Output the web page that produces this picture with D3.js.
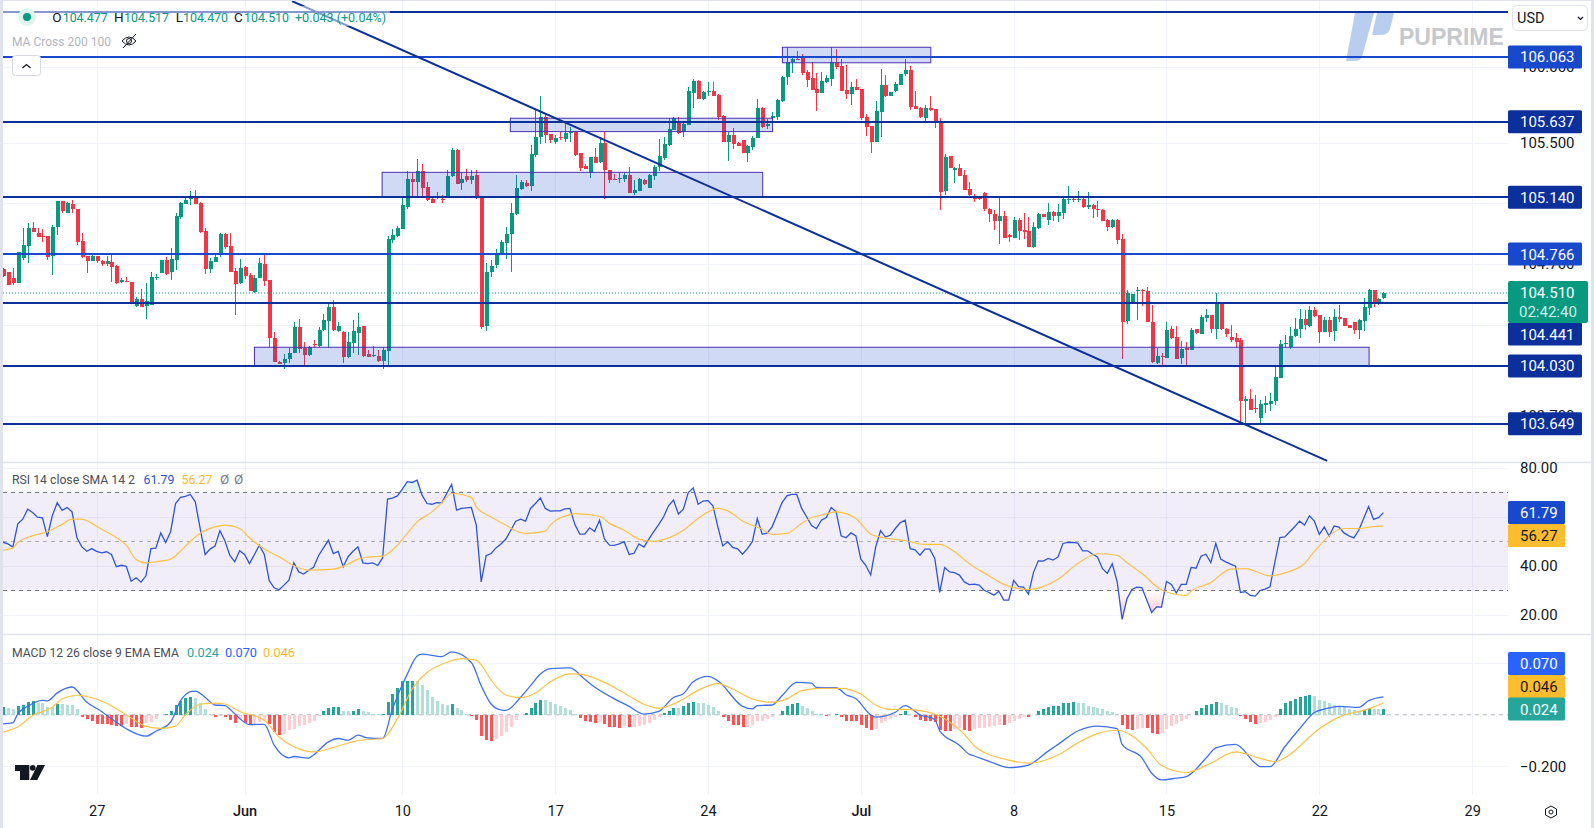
<!DOCTYPE html>
<html lang="en">
<head>
  <meta charset="UTF-8" />
  <title>US Dollar Index 4H</title>
  <script src="https://d3js.org/d3.v7.min.js"></script>
  <style>
    html, body { margin: 0; padding: 0; background: #fff; overflow: hidden; }
    svg { display: block; font-family: Roboto, 'Noto Sans', sans-serif; }
    .axis text { fill: #131722; }
    .axis .domain, .axis line { display: none; }
  </style>
</head>
<body>
<svg id="chart" width="1594" height="828"></svg>
<script>
// candles
const opens = [
  104.666,104.651,104.611,104.578,104.738,104.820,104.940,104.903,104.883,104.885,
  104.754,104.947,105.116,105.039,105.096,105.063,104.852,104.756,104.723,104.754,
  104.723,104.701,104.712,104.690,104.583,104.592,104.580,104.425,104.471,104.425,
  104.431,104.609,104.644,104.728,104.651,104.728,105.008,105.096,105.129,105.144,
  105.105,104.918,104.666,104.716,104.760,104.899,104.820,104.655,104.574,104.684,
  104.629,104.519,104.611,104.701,104.596,104.214,104.059,104.048,104.076,104.114,
  104.285,104.146,104.103,104.177,104.164,104.267,104.328,104.421,104.263,104.256,
  104.087,104.179,104.249,104.293,104.107,104.094,104.096,104.063,104.131,104.859,
  104.886,104.934,105.079,105.261,105.241,105.313,105.208,105.129,105.142,105.131,
  105.151,105.280,105.452,105.237,105.280,105.254,105.287,105.145,104.296,104.649,
  104.695,104.776,104.842,104.895,105.030,105.195,105.232,105.217,105.419,105.537,
  105.666,105.554,105.506,105.537,105.522,105.565,105.572,105.430,105.348,105.298,
  105.405,105.373,105.498,105.320,105.263,105.261,105.261,105.287,105.167,105.184,
  105.254,105.204,105.283,105.342,105.397,105.485,105.583,105.636,105.572,105.616,
  105.829,105.905,105.787,105.833,105.840,105.813,105.675,105.506,105.550,105.500,
  105.517,105.434,105.473,105.533,105.730,105.612,105.660,105.666,105.774,105.932,
  106.028,106.052,106.066,105.967,105.925,105.853,105.829,105.897,105.919,106.028,
  106.004,105.846,105.820,105.866,105.853,105.666,105.609,105.506,105.704,105.879,
  105.807,105.840,105.879,105.952,105.978,105.741,105.730,105.662,105.726,105.721,
  105.645,105.182,105.412,105.322,105.333,105.287,105.195,105.145,105.136,105.169,
  105.063,105.030,104.984,105.017,104.890,104.873,104.991,104.923,104.919,104.813,
  104.938,105.030,104.991,105.043,105.017,105.037,105.123,105.131,105.123,105.129,
  105.079,105.090,105.063,105.057,104.991,104.945,104.991,104.866,104.328,104.451,
  104.521,104.530,104.524,104.322,104.048,104.098,104.085,104.271,104.221,104.085,
  104.146,104.138,104.271,104.241,104.346,104.366,104.274,104.445,104.274,104.219,
  104.214,104.201,103.802,103.813,103.752,103.688,103.776,103.780,103.802,103.954,
  104.175,104.157,104.228,104.276,104.340,104.293,104.399,104.366,104.256,104.333,
  104.260,104.355,104.346,104.300,104.317,104.267,104.326,104.414,104.528,104.447,
  104.477];
const highs = [
  104.673,104.651,104.673,104.782,104.936,104.969,104.980,104.940,104.929,104.885,
  104.958,105.116,105.116,105.109,105.122,105.063,104.903,104.756,104.760,104.756,
  104.725,104.754,104.760,104.695,104.611,104.613,104.582,104.486,104.535,104.576,
  104.646,104.635,104.728,104.745,104.804,105.035,105.111,105.149,105.181,105.188,
  105.109,104.936,104.738,104.760,104.905,104.903,104.905,104.677,104.732,104.688,
  104.640,104.629,104.738,104.767,104.598,104.254,104.061,104.109,104.146,104.320,
  104.337,104.190,104.160,104.201,104.289,104.372,104.453,104.464,104.322,104.258,
  104.256,104.333,104.381,104.296,104.135,104.164,104.135,104.157,104.886,104.930,
  104.952,105.145,105.313,105.302,105.392,105.359,105.239,105.133,105.173,105.155,
  105.320,105.465,105.458,105.298,105.327,105.320,105.320,105.147,104.706,104.728,
  104.800,104.859,104.947,105.105,105.287,105.254,105.254,105.482,105.715,105.807,
  105.688,105.556,105.550,105.572,105.627,105.605,105.574,105.432,105.357,105.406,
  105.462,105.539,105.572,105.322,105.294,105.298,105.309,105.342,105.254,105.265,
  105.259,105.291,105.353,105.524,105.535,105.660,105.666,105.666,105.627,105.868,
  105.919,105.912,105.840,105.899,105.899,105.820,105.682,105.572,105.594,105.504,
  105.517,105.484,105.544,105.787,105.734,105.653,105.704,105.787,105.938,106.127,
  106.055,106.103,106.083,105.978,106.033,105.956,105.963,105.945,106.127,106.116,
  106.050,106.011,105.899,105.919,105.853,105.688,105.609,105.774,105.984,105.945,
  105.833,105.899,105.949,106.050,106.004,105.840,105.734,105.745,105.807,105.721,
  105.660,105.425,105.412,105.337,105.359,105.320,105.241,105.162,105.145,105.175,
  105.070,105.054,105.149,105.050,104.899,105.011,105.006,105.037,105.011,104.978,
  105.039,105.030,105.103,105.050,105.096,105.142,105.215,105.142,105.182,105.136,
  105.175,105.098,105.116,105.063,104.998,104.998,104.998,104.899,104.530,104.504,
  104.552,104.535,104.552,104.431,104.149,104.114,104.320,104.293,104.293,104.197,
  104.190,104.278,104.274,104.366,104.403,104.366,104.513,104.453,104.278,104.300,
  104.249,104.214,103.833,103.879,103.840,103.806,103.835,103.855,104.026,104.201,
  104.234,104.285,104.348,104.403,104.399,104.425,104.421,104.366,104.355,104.355,
  104.403,104.431,104.346,104.300,104.322,104.339,104.475,104.537,104.530,104.475,
  104.517];
const lows = [
  104.618,104.563,104.563,104.574,104.728,104.706,104.914,104.877,104.848,104.728,
  104.629,104.892,105.035,105.035,105.035,104.826,104.743,104.640,104.721,104.710,
  104.690,104.688,104.585,104.570,104.578,104.580,104.451,104.421,104.421,104.342,
  104.431,104.596,104.644,104.631,104.596,104.662,104.997,105.096,105.089,105.096,
  104.903,104.635,104.640,104.712,104.745,104.798,104.646,104.366,104.567,104.603,
  104.524,104.513,104.607,104.556,104.157,104.056,104.042,104.008,104.048,104.114,
  104.114,104.037,104.098,104.146,104.157,104.263,104.146,104.263,104.256,104.052,
  104.081,104.114,104.103,104.092,104.087,104.087,104.059,104.008,104.037,104.837,
  104.881,104.930,105.063,105.151,105.151,105.151,105.118,105.103,105.129,105.105,
  105.151,105.272,105.228,105.188,105.243,105.226,105.129,104.274,104.261,104.618,
  104.675,104.761,104.734,104.651,105.024,105.188,105.206,105.182,105.408,105.493,
  105.495,105.495,105.491,105.517,105.502,105.506,105.412,105.313,105.324,105.270,
  105.364,105.368,105.129,105.237,105.252,105.237,105.239,105.167,105.156,105.182,
  105.221,105.204,105.254,105.316,105.386,105.478,105.583,105.557,105.539,105.616,
  105.730,105.787,105.780,105.809,105.807,105.649,105.506,105.381,105.458,105.478,
  105.434,105.373,105.452,105.533,105.598,105.590,105.649,105.649,105.769,105.879,
  105.956,106.043,105.945,105.868,105.846,105.708,105.824,105.890,105.873,105.984,
  105.840,105.787,105.748,105.844,105.649,105.544,105.432,105.506,105.539,105.798,
  105.807,105.833,105.879,105.941,105.717,105.721,105.660,105.645,105.708,105.596,
  105.057,105.156,105.333,105.234,105.280,105.188,105.140,105.109,105.123,105.050,
  104.976,104.925,104.833,104.873,104.846,104.873,104.859,104.866,104.813,104.807,
  104.932,105.011,104.958,104.984,104.978,104.998,105.098,105.109,105.109,105.070,
  105.063,105.004,105.011,104.982,104.919,104.939,104.833,104.077,104.306,104.451,
  104.333,104.427,104.322,104.048,104.043,104.026,104.085,104.206,104.079,104.043,
  104.037,104.135,104.241,104.238,104.322,104.245,104.206,104.267,104.219,104.190,
  104.146,103.664,103.657,103.741,103.719,103.657,103.719,103.736,103.774,103.954,
  104.146,104.140,104.223,104.212,104.267,104.285,104.355,104.184,104.252,104.223,
  104.197,104.322,104.293,104.282,104.241,104.210,104.260,104.366,104.421,104.431,
  104.470];
const closes = [
  104.622,104.563,104.574,104.782,104.826,104.936,104.914,104.881,104.877,104.745,
  104.947,105.116,105.052,105.100,105.063,104.848,104.749,104.721,104.756,104.721,
  104.701,104.721,104.684,104.578,104.596,104.583,104.451,104.471,104.421,104.458,
  104.613,104.618,104.728,104.635,104.734,105.017,105.105,105.122,105.149,105.096,
  104.910,104.668,104.721,104.745,104.899,104.815,104.651,104.570,104.673,104.625,
  104.526,104.609,104.706,104.592,104.212,104.059,104.046,104.076,104.114,104.285,
  104.140,104.103,104.157,104.170,104.267,104.333,104.421,104.267,104.293,104.087,
  104.186,104.260,104.287,104.098,104.092,104.101,104.063,104.135,104.866,104.892,
  104.936,105.090,105.261,105.241,105.313,105.204,105.123,105.105,105.134,105.123,
  105.280,105.452,105.228,105.261,105.252,105.280,105.134,104.285,104.649,104.688,
  104.772,104.846,104.899,105.037,105.202,105.241,105.213,105.425,105.537,105.666,
  105.552,105.517,105.533,105.528,105.565,105.574,105.419,105.335,105.329,105.405,
  105.368,105.498,105.322,105.256,105.254,105.270,105.287,105.167,105.188,105.261,
  105.224,105.287,105.342,105.412,105.491,105.590,105.660,105.561,105.623,105.840,
  105.905,105.787,105.833,105.840,105.809,105.666,105.506,105.550,105.491,105.480,
  105.434,105.480,105.533,105.728,105.605,105.620,105.675,105.780,105.932,106.028,
  106.050,106.043,105.956,105.912,105.846,105.829,105.905,105.923,106.028,106.000,
  105.840,105.820,105.864,105.846,105.660,105.603,105.504,105.708,105.879,105.807,
  105.833,105.886,105.949,105.978,105.734,105.721,105.666,105.728,105.717,105.645,
  105.175,105.405,105.333,105.331,105.280,105.188,105.153,105.129,105.127,105.061,
  105.030,104.984,105.017,104.873,104.881,104.991,104.919,104.914,104.813,104.945,
  105.033,105.011,105.043,105.017,105.043,105.129,105.131,105.123,105.131,105.076,
  105.087,105.063,105.054,104.984,104.945,104.991,104.859,104.320,104.513,104.504,
  104.530,104.521,104.322,104.054,104.096,104.090,104.267,104.212,104.079,104.142,
  104.138,104.267,104.249,104.355,104.366,104.274,104.445,104.271,104.241,104.201,
  104.188,103.802,103.813,103.741,103.748,103.780,103.785,103.800,103.958,104.173,
  104.184,104.228,104.274,104.340,104.300,104.399,104.361,104.256,104.333,104.256,
  104.350,104.337,104.293,104.282,104.267,104.333,104.418,104.530,104.451,104.471,
  104.510];

// time axis: bar number of each label
const timeBars = [19, 49, 81, 112, 143, 174, 205, 236, 267, 298];
const timeLabels = ['27', 'Jun', '10', '17', '24', 'Jul', '8', '15', '22', '29'];

// price pane
const priceTicks = [106.0, 105.5, 105.1, 104.7, 104.3, 103.7];
const priceLabels = [106.0, 105.5, 104.7, 103.7];
const topLevel = 106.36;
const levels = [106.063, 105.637, 105.140, 104.766, 104.441, 104.030, 103.649];
const brightLevels = [106.063, 104.766];
const lastPrice = 104.510;
const countdown = '02:42:40';
// [first bar, last bar] and [top price, bottom price] of each zone
const zoneBars = [[158.1, 188.2], [102.9, 156.1], [76.9, 154.1], [51, 277.1]];
const zonePrices = [[106.127, 106.025], [105.660, 105.572], [105.304, 105.140], [104.153, 104.030]];
const trendBars = [58.6, 268.6];
const trendPrices = [106.431, 103.405];

// RSI pane
const rsiTicks = [80, 60, 40, 20];
const rsiLabels = [80, 40, 20];
const rsiValues = [
  49.7,49.0,47.7,57.2,59.1,63.2,61.8,59.9,59.7,52.0,60.5,65.8,62.7,63.9,62.1,51.5,47.8,46.0,47.1,46.0,
  45.4,45.8,44.7,39.7,40.3,39.9,33.8,35.2,33.4,36.0,47.1,47.3,53.5,49.6,54.0,65.5,68.0,68.4,69.2,66.2,
  55.3,44.7,46.9,48.1,54.4,50.3,44.4,41.7,46.2,44.7,41.0,44.7,48.5,44.7,34.0,31.1,30.3,32.2,34.2,41.3,
  37.6,36.7,38.3,39.5,44.2,47.4,50.5,45.1,46.0,39.7,43.8,46.0,47.8,41.3,41.0,41.3,40.2,43.3,67.3,67.7,
  68.6,71.4,74.4,74.1,75.0,68.9,65.5,65.2,65.9,65.8,69.6,73.3,62.8,63.5,63.7,63.9,56.7,33.5,44.2,45.1,
  47.4,49.0,51.0,54.6,58.3,59.1,58.3,63.5,65.5,67.8,63.5,62.4,62.5,62.5,63.3,63.5,56.9,53.0,53.0,55.6,
  54.1,58.7,51.0,48.5,48.4,49.0,49.9,44.7,45.2,49.0,47.7,51.0,54.0,56.9,60.1,64.6,66.9,61.2,63.2,70.0,
  71.9,65.2,66.5,66.7,64.6,56.0,48.2,49.9,47.6,47.0,44.8,47.1,49.9,59.4,53.0,53.4,56.0,60.8,65.8,68.6,
  69.2,69.2,63.5,60.1,56.5,55.3,58.7,59.8,63.9,62.1,52.3,51.5,53.5,52.3,42.8,40.3,36.3,47.6,54.4,51.8,
  52.6,55.3,57.7,58.7,47.1,46.6,44.4,46.9,46.9,43.1,29.2,39.4,37.6,37.3,36.3,33.5,32.4,32.6,32.2,30.1,
  29.2,28.1,29.7,26.1,26.1,34.1,31.6,31.4,28.5,37.2,42.1,42.0,43.1,42.4,43.7,49.2,49.6,49.6,49.3,46.2,
  46.2,44.8,43.7,39.0,37.0,40.9,33.5,18.2,26.7,30.4,31.4,31.2,26.1,21.0,23.3,23.2,33.7,32.5,29.0,32.5,
  32.5,39.4,39.1,44.0,44.8,41.4,49.2,42.8,41.7,40.8,39.9,29.2,29.5,28.0,27.7,30.0,30.6,31.5,41.7,51.6,
  51.9,54.0,56.0,58.3,56.7,60.5,58.3,52.9,55.9,52.2,56.3,55.9,53.5,52.3,51.5,54.6,59.4,64.3,59.0,59.7,
  61.79];
const smaBars = [0,2,3,6,9,12,14,16,18,20,23,25,27,29,31,34,36,38,40,43,45,48,50,53,56,59,62,67,70,72,74,77,80,82,84,87,89,91,95,96,99,
  102,104,106,110,111,115,116,121,123,126,129,132,135,138,141,145,147,150,154,156,159,162,164,166,169,173,176,178,183,187,190,193,196,
  200,203,208,214,218,222,226,228,231,235,240,241,245,249,252,257,260,264,266,272,275,278,280];
const smaValues = [46.5,47.4,49.6,52.3,54.0,57.0,59.1,59.1,57.4,55.0,51.6,48.5,42.7,41.3,41.7,42.8,46.0,50.1,53.4,56.0,56.7,55.3,51.5,46.9,43.8,40.1,38.3,38.7,40.8,42.8,43.6,44.0,48.5,53.3,58.0,62.1,65.8,69.6,68.0,64.1,60.0,
  56.7,54.4,53.3,54.2,56.7,61.0,61.4,60.3,57.4,54.6,51.0,50.1,51.5,54.6,59.4,63.5,62.5,58.4,55.0,52.9,53.3,57.4,59.7,60.7,62.1,59.4,53.0,51.8,50.4,48.8,48.8,45.8,40.9,
  36.0,32.5,30.4,34.6,41.0,45.0,44.4,41.3,37.0,30.2,28.0,29.7,33.3,38.7,38.9,36.0,37.2,41.0,46.0,55.3,55.3,56.1,56.27];

// MACD pane
const macdTicks = [0.2, -0.2];
const macdBars = [0,2,3,5,8,9,11,13,14,17,20,22,25,29,31,34,36,38,39,41,43,45,47,50,53,55,58,59,62,63,66,68,70,72,74,77,79,82,84,85,89,91,95,97,
  99,101,102,105,107,109,111,115,118,120,124,127,130,133,136,138,140,143,145,150,152,153,156,158,161,164,165,169,171,173,176,177,181,183,186,189,190,194,196,
  197,201,204,208,212,214,218,222,226,227,231,233,235,238,240,244,246,250,254,255,257,260,263,266,268,271,275,277,280];
const macdValues = [-0.035,-0.031,0.004,0.033,0.056,0.054,0.085,0.105,0.108,0.049,0.013,-0.015,-0.054,-0.083,-0.064,-0.028,0.054,0.090,0.092,0.068,0.038,0.036,0.004,-0.038,-0.037,-0.118,-0.167,-0.162,-0.168,-0.156,-0.105,-0.092,-0.099,-0.079,-0.090,-0.092,0.023,0.158,0.228,0.236,0.226,0.244,0.203,0.113,
  0.042,0.019,0.017,0.068,0.113,0.158,0.179,0.182,0.138,0.108,0.062,0.033,0.003,0.013,0.067,0.082,0.128,0.149,0.132,0.033,0.023,0.036,0.038,0.074,0.126,0.123,0.106,0.105,0.078,0.062,0,-0.009,0.010,0.036,0,-0.018,-0.062,-0.118,-0.153,
  -0.160,-0.188,-0.205,-0.195,-0.141,-0.115,-0.063,-0.044,-0.054,-0.115,-0.167,-0.227,-0.253,-0.246,-0.240,-0.169,-0.128,-0.115,-0.188,-0.201,-0.201,-0.124,-0.054,0.009,0.022,0.033,0.029,0.055,0.070];
const signalBars = [0,3,6,10,12,15,17,21,25,29,32,35,37,40,43,45,48,53,56,59,63,68,72,77,80,83,86,90,93,96,97,99,
  102,105,108,111,115,117,122,126,130,133,137,141,145,148,152,156,159,162,166,170,174,177,180,183,189,192,196,
  197,204,208,214,218,222,226,232,235,240,245,250,255,258,260,267,271,277,280];
const signalValues = [-0.067,-0.047,-0.003,0.029,0.062,0.076,0.071,0.045,0,-0.045,-0.053,-0.044,0,0.041,0.045,0.042,0.013,-0.021,-0.086,-0.124,-0.144,-0.121,-0.100,-0.092,-0.015,0.100,0.164,0.203,0.218,0.212,0.194,0.135,
  0.077,0.067,0.085,0.128,0.159,0.158,0.126,0.085,0.041,0.026,0.051,0.095,0.121,0.100,0.062,0.049,0.062,0.094,0.103,0.103,0.081,0.038,0.021,0.021,0.003,-0.028,-0.097,
  -0.121,-0.176,-0.188,-0.156,-0.109,-0.073,-0.060,-0.131,-0.197,-0.224,-0.188,-0.144,-0.169,-0.182,-0.167,-0.054,-0.009,0.023,0.046];
const histValues = [
  .029,.027,.023,.033,.040,.051,.052,.046,.044,.032,.031,.042,.041,.040,.039,.021,-.008,-.018,-.026,-.035,
  -.036,-.037,-.038,-.044,-.045,-.035,-.047,-.049,-.050,-.031,-.028,-.018,.001,.003,.015,.040,.054,.067,.069,.067,
  .046,.021,.003,-.009,-.004,-.009,-.022,-.033,-.022,-.031,-.041,-.035,-.029,-.023,-.036,-.067,-.077,-.073,-.060,-.054,
  -.045,-.041,-.031,-.023,-.005,.013,.028,.029,.030,.015,.014,.015,.023,.013,.009,.005,.003,.005,.051,.082,
  .103,.131,.132,.133,.132,.117,.095,.071,.054,.041,.038,.041,.026,.017,.004,-.005,-.022,-.082,-.099,-.103,
  -.095,-.083,-.067,-.049,-.022,-.001,.008,.028,.044,.059,.058,.051,.042,.036,.028,.019,.005,-.013,-.026,-.029,
  -.032,-.028,-.037,-.046,-.049,-.050,-.045,-.049,-.048,-.045,-.041,-.033,-.022,-.009,.006,.015,.028,.027,.033,.044,
  .051,.046,.044,.040,.031,.013,-.009,-.026,-.038,-.041,-.049,-.048,-.041,-.026,-.023,-.018,-.009,.001,.015,.033,
  .041,.044,.035,.028,.013,.003,.001,-.005,.001,.002,-.009,-.023,-.024,-.026,-.038,-.050,-.060,-.054,-.032,-.026,
  -.018,-.009,.005,.013,.001,-.009,-.022,-.023,-.024,-.028,-.060,-.061,-.062,-.054,-.053,-.060,-.061,-.055,-.053,-.050,
  -.046,-.044,-.038,-.039,-.032,-.023,-.017,-.009,-.010,-.002,.013,.024,.032,.033,.036,.044,.047,.048,.047,.044,
  .036,.032,.027,.021,.014,.009,.001,-.041,-.056,-.060,-.056,-.050,-.053,-.072,-.073,-.072,-.054,-.045,-.037,-.026,
  -.018,.001,.013,.028,.040,.041,.051,.047,.040,.032,.028,-.003,-.018,-.029,-.037,-.033,-.029,-.022,-.008,.024,
  .044,.055,.063,.071,.074,.075,.074,.059,.055,.044,.040,.036,.032,.021,.017,.013,.017,.027,.024,.023,
  .024];

const svg = d3.select('#chart');
const green = '#089981', red = '#f23645';
const navy = '#0b2f9b', bright = '#1848cc';
const gridColor = '#f0f3fa';
const axisX = 1508;

// scales
const x = d3.scaleLinear().domain([0, closes.length - 1]).range([3, 1383.4]);
const yPrice = d3.scaleLinear().domain([106.438, 103.398]).range([0, 462]);
const yRsi = d3.scaleLinear().domain([80, 20]).range([468, 615]);
const yMacd = d3.scaleLinear().domain([0.2, -0.2]).range([663.3, 766.3]);

// clip areas of the panes
const defs = svg.append('defs');
function addClip(id, y0, y1) {
  defs.append('clipPath').attr('id', id).append('rect')
    .attr('x', 3).attr('y', y0).attr('width', axisX - 3).attr('height', y1 - y0);
}
addClip('clip-price', 1, 462);
addClip('clip-rsi', 463, 634);
addClip('clip-macd', 635, 795);
addClip('clip-over', yRsi(70) - 40, yRsi(70));
addClip('clip-under', yRsi(30), yRsi(20) + 15);

const under = defs.append('linearGradient').attr('id', 'under-fill')
  .attr('gradientUnits', 'userSpaceOnUse').attr('x1', 0).attr('x2', 0)
  .attr('y1', yRsi(30)).attr('y2', yRsi(20));
under.append('stop').attr('offset', 0).attr('stop-color', red).attr('stop-opacity', 0);
under.append('stop').attr('offset', 1).attr('stop-color', red).attr('stop-opacity', 0.28);

// page frame
svg.append('rect').attr('width', 1594).attr('height', 828).attr('fill', '#fff');

// vertical grid
svg.append('g').selectAll('line').data(timeBars).join('line')
  .attr('x1', d => Math.round(x(d)) + 0.5).attr('x2', d => Math.round(x(d)) + 0.5)
  .attr('y1', 0).attr('y2', 795)
  .attr('stroke', gridColor);

// horizontal grid of all three panes
function hGrid(ticks, scale) {
  svg.append('g').selectAll('line').data(ticks).join('line')
    .attr('x1', 3).attr('x2', axisX)
    .attr('y1', d => Math.round(scale(d)) + 0.5).attr('y2', d => Math.round(scale(d)) + 0.5)
    .attr('stroke', gridColor);
}
hGrid(priceTicks, yPrice);
hGrid(rsiTicks, yRsi);
hGrid(macdTicks, yMacd);

// watermark
const mark = svg.append('g');
mark.append('path').attr('d', 'M1355,13 L1374,13 L1362,57 Q1360,61 1355,61 L1346,61 Z').attr('fill', '#b9cdef');
mark.append('path').attr('d', 'M1377,13 L1394,13 L1390,29 Q1388,35 1380,35 L1372,35 Z').attr('fill', '#b9cdef');
mark.append('text').attr('x', 1399).attr('y', 45).attr('font-size', 23).attr('font-weight', 700)
  .attr('font-family', "'Liberation Sans', sans-serif").attr('fill', '#c6c8cc').text('PUPRIME');

// candles
const candleLayer = svg.append('g').attr('clip-path', 'url(#clip-price)').attr('shape-rendering', 'crispEdges');
const bars = candleLayer.selectAll('g').data(closes.map((c, i) => i)).join('g')
  .attr('fill', i => closes[i] >= opens[i] ? green : red);
bars.append('rect')
  .attr('x', i => Math.round(x(i)))
  .attr('width', 1)
  .attr('y', i => yPrice(highs[i]))
  .attr('height', i => yPrice(lows[i]) - yPrice(highs[i]));
bars.append('rect')
  .attr('x', i => Math.round(x(i)) - 1.5)
  .attr('width', 4)
  .attr('y', i => yPrice(Math.max(opens[i], closes[i])))
  .attr('height', i => Math.max(1, Math.abs(yPrice(opens[i]) - yPrice(closes[i]))));

// zones
svg.append('g').attr('clip-path', 'url(#clip-price)').selectAll('rect').data(zoneBars).join('rect')
  .attr('x', d => x(d[0])).attr('width', d => x(d[1]) - x(d[0]))
  .attr('y', (d, i) => yPrice(zonePrices[i][0]))
  .attr('height', (d, i) => yPrice(zonePrices[i][1]) - yPrice(zonePrices[i][0]))
  .attr('fill', bright).attr('fill-opacity', 0.2)
  .attr('stroke', '#4a2fae').attr('stroke-width', 1);

// last price line
svg.append('line').attr('x1', 3).attr('x2', axisX)
  .attr('y1', yPrice(lastPrice)).attr('y2', yPrice(lastPrice))
  .attr('stroke', green).attr('stroke-dasharray', '1 2');

// horizontal levels
svg.append('g').attr('shape-rendering', 'crispEdges').selectAll('line').data([topLevel].concat(levels)).join('line')
  .attr('x1', 3).attr('x2', axisX)
  .attr('y1', d => yPrice(d)).attr('y2', d => yPrice(d))
  .attr('stroke', d => brightLevels.includes(d) ? bright : navy)
  .attr('stroke-width', 2);

// trend line
svg.append('line').attr('clip-path', 'url(#clip-price)')
  .attr('x1', x(trendBars[0])).attr('x2', x(trendBars[1]))
  .attr('y1', yPrice(trendPrices[0])).attr('y2', yPrice(trendPrices[1]))
  .attr('stroke', navy).attr('stroke-width', 2);

// legend backdrop dims what runs behind the top row
svg.append('rect').attr('x', 3).attr('y', 6).attr('width', 387).attr('height', 20)
  .attr('fill', '#fff').attr('opacity', 0.5);

// RSI band
svg.append('rect').attr('x', 3).attr('width', axisX - 3)
  .attr('y', yRsi(70)).attr('height', yRsi(30) - yRsi(70))
  .attr('fill', '#7e57c2').attr('fill-opacity', 0.1);
[[70, '#787b86'], [50, 'rgba(120,123,134,0.55)'], [30, '#787b86']].forEach(([v, col]) => {
  svg.append('line').attr('x1', 3).attr('x2', axisX)
    .attr('y1', yRsi(v)).attr('y2', yRsi(v))
    .attr('stroke', col).attr('stroke-dasharray', '4 4');
});

// RSI fills past the band, RSI line and its average
const rsiIndex = rsiValues.map((v, i) => i);
const rsiArea = d3.area().x(i => x(i)).y1(i => yRsi(rsiValues[i]));
svg.append('path').attr('clip-path', 'url(#clip-under)')
  .attr('d', rsiArea.y0(yRsi(30))(rsiIndex)).attr('fill', 'url(#under-fill)');
svg.append('path').attr('clip-path', 'url(#clip-over)')
  .attr('d', rsiArea.y0(yRsi(70))(rsiIndex)).attr('fill', green).attr('fill-opacity', 0.12);

const rsiLine = d3.line().x(i => x(i)).y(i => yRsi(rsiValues[i]));
svg.append('path').attr('clip-path', 'url(#clip-rsi)').attr('d', rsiLine(rsiIndex))
  .attr('fill', 'none').attr('stroke', '#2f55cf').attr('stroke-width', 1.3);

const smooth = (bars, values, scale) => d3.line().curve(d3.curveMonotoneX)
  .x(d => x(d)).y((d, i) => scale(values[i]))(bars);
svg.append('path').attr('clip-path', 'url(#clip-rsi)').attr('d', smooth(smaBars, smaValues, yRsi))
  .attr('fill', 'none').attr('stroke', '#fdc146').attr('stroke-width', 1.2);

// MACD zero line
svg.append('line').attr('x1', 3).attr('x2', axisX)
  .attr('y1', yMacd(0)).attr('y2', yMacd(0))
  .attr('stroke', '#b2b5be').attr('stroke-dasharray', '4 4');

// histogram, the shade follows rising or falling
svg.append('g').attr('clip-path', 'url(#clip-macd)').attr('shape-rendering', 'crispEdges')
  .selectAll('rect').data(histValues).join('rect')
  .attr('x', (d, i) => Math.round(x(i)) - 1)
  .attr('width', 3)
  .attr('y', d => Math.min(yMacd(d), yMacd(0)))
  .attr('height', d => Math.abs(yMacd(d) - yMacd(0)))
  .attr('fill', (d, i) => {
    const rising = i === 0 || d > histValues[i - 1];
    if (d >= 0) return rising ? '#26a69a' : '#b2dfdb';
    return rising ? '#ffcdd2' : '#ff5252';
  });

svg.append('path').attr('clip-path', 'url(#clip-macd)').attr('d', smooth(macdBars, macdValues, yMacd))
  .attr('fill', 'none').attr('stroke', '#4070f0').attr('stroke-width', 1.3);
svg.append('path').attr('clip-path', 'url(#clip-macd)').attr('d', smooth(signalBars, signalValues, yMacd))
  .attr('fill', 'none').attr('stroke', '#fdc146').attr('stroke-width', 1.2);

// pane separators and frame
[[0, 462.5], [0, 634.5]].forEach(([x0, y]) => {
  svg.append('line').attr('x1', x0).attr('x2', 1594).attr('y1', y).attr('y2', y).attr('stroke', '#e0e3eb').attr('stroke-width', 1.5);
});
svg.append('rect').attr('x', 0).attr('y', 0).attr('width', 3).attr('height', 828).attr('fill', '#e0e3eb');
svg.append('rect').attr('x', 0).attr('y', 0).attr('width', 1594).attr('height', 1).attr('fill', '#e0e3eb');
svg.append('rect').attr('x', 1591).attr('y', 0).attr('width', 3).attr('height', 828).attr('fill', '#e0e3eb');

// axes
function rightAxis(scale, ticks, fmt) {
  const g = svg.append('g').attr('class', 'axis').attr('transform', `translate(${axisX},0)`)
    .call(d3.axisRight(scale).tickValues(ticks).tickSize(0).tickPadding(12).tickFormat(fmt));
  g.selectAll('text').attr('font-size', 15).attr('font-family', 'Roboto, sans-serif');
}
rightAxis(yPrice, priceLabels, d3.format('.3f'));
rightAxis(yRsi, rsiLabels, d3.format('.2f'));
rightAxis(yMacd, [-0.2], d => d3.format('.3f')(d).replace('-', '\u2212'));

const timeAxis = svg.append('g').attr('class', 'axis').attr('transform', 'translate(0,800)')
  .call(d3.axisBottom(x).tickValues(timeBars).tickSize(0).tickPadding(6)
    .tickFormat((d, i) => timeLabels[i]));
timeAxis.selectAll('text').attr('font-size', 14.5).attr('font-family', 'Roboto, sans-serif')
  .attr('font-weight', (d, i) => /[A-Z]/.test(timeLabels[i]) ? 500 : 400);

// value pills on the right scale
function pill(y, width, height, color, label, textColor) {
  svg.append('rect').attr('x', axisX).attr('y', y).attr('width', width).attr('height', height)
    .attr('fill', color).attr('rx', 1.5);
  svg.append('text').attr('x', axisX + 12).attr('y', y + height / 2 + 5.5)
    .attr('font-size', 15).attr('fill', textColor || '#fff').text(label);
}
levels.forEach(v => {
  // the 104.441 tag is pushed down by the last price tag
  const centre = v === 104.441 ? 334 : yPrice(v);
  pill(centre - 11.5, 74, 23, brightLevels.includes(v) ? bright : navy, v.toFixed(3));
});
svg.append('rect').attr('x', axisX).attr('y', 281).attr('width', 80).attr('height', 42).attr('fill', green).attr('rx', 2);
svg.append('text').attr('x', axisX + 12).attr('y', 298).attr('font-size', 15).attr('fill', '#fff').text(lastPrice.toFixed(3));
svg.append('text').attr('x', axisX + 11).attr('y', 317).attr('font-size', 15).attr('fill', '#cfeee8').text(countdown);

pill(501, 57, 23, bright, rsiValues[rsiValues.length - 1].toFixed(2));
pill(524, 57, 23, '#fdbd2e', smaValues[smaValues.length - 1].toFixed(2), '#131722');
pill(652, 57, 23, '#2962ff', macdValues[macdValues.length - 1].toFixed(3));
pill(675, 57, 23, '#fdbd2e', signalValues[signalValues.length - 1].toFixed(3), '#131722');
pill(697.5, 57, 23, '#26a69a', histValues[histValues.length - 1].toFixed(3));

// legends, fitted to the width they take in the picture
function legendText(px, py, str, color, width) {
  const t = svg.append('text').attr('x', px).attr('y', py).attr('font-size', 13.5)
    .attr('fill', color).text(str);
  if (width) t.attr('textLength', width).attr('lengthAdjust', 'spacingAndGlyphs');
  return t;
}
svg.append('circle').attr('cx', 27).attr('cy', 17).attr('r', 9).attr('fill', '#dff3ef');
svg.append('circle').attr('cx', 27).attr('cy', 17).attr('r', 4).attr('fill', green);
[['O', 52.3, 62.7, opens], ['H', 114, 124, highs], ['L', 175.7, 183, lows], ['C', 234, 244, closes]].forEach(([name, px, vx, arr]) => {
  legendText(px, 22, name, '#131722');
  legendText(vx, 22, arr[arr.length - 1].toFixed(3), green, 45);
});
legendText(295, 22, '+0.043 (+0.04%)', green, 91);

legendText(12, 46, 'MA Cross 200 100', '#b2b5be', 99);
// crossed eye icon
const eye = svg.append('g').attr('fill', 'none').attr('stroke', '#131722').attr('stroke-width', 1);
eye.append('path').attr('d', 'M122,41 Q129,33 136,41 Q129,49 122,41 Z');
eye.append('circle').attr('cx', 129).attr('cy', 41).attr('r', 2.5);
eye.append('line').attr('x1', 123).attr('y1', 48).attr('x2', 136).attr('y2', 34);

// collapse button
svg.append('rect').attr('x', 12.5).attr('y', 55.5).attr('width', 28).attr('height', 20).attr('rx', 3)
  .attr('fill', '#fff').attr('stroke', '#d6d9e2');
svg.append('path').attr('d', 'M22.5,68 L26.5,64.5 L30.5,68').attr('fill', 'none').attr('stroke', '#131722').attr('stroke-width', 1.2);

legendText(12, 484, 'RSI 14 close SMA 14 2', '#4a4e59', 123);
legendText(143.5, 484, rsiValues[rsiValues.length - 1].toFixed(2), '#2f55cf', 31);
legendText(181.5, 484, smaValues[smaValues.length - 1].toFixed(2), '#fdb92e', 31);
legendText(220, 484, '\u00d8', '#787b86');
legendText(234, 484, '\u00d8', '#787b86');

legendText(12, 657, 'MACD 12 26 close 9 EMA EMA', '#4a4e59', 167);
legendText(187, 657, histValues[histValues.length - 1].toFixed(3), '#26a69a', 32);
legendText(225, 657, macdValues[macdValues.length - 1].toFixed(3), '#2962ff', 32);
legendText(263, 657, signalValues[signalValues.length - 1].toFixed(3), '#fdb92e', 32);

// currency selector
svg.append('rect').attr('x', 1512.5).attr('y', 5.5).attr('width', 75).attr('height', 25).attr('rx', 4)
  .attr('fill', '#fff').attr('stroke', '#e0e3eb');
legendText(1517, 23, 'USD', '#131722').attr('font-size', 14.5);
svg.append('path').attr('d', 'M1578,17 L1580.5,19.5 L1583,17').attr('fill', 'none').attr('stroke', '#131722').attr('stroke-width', 1.2);

// logo
svg.append('path').attr('fill', '#131722')
  .attr('d', 'M15,765 H29.3 V780 H20 V771 H15 Z M37.5,765 H45 L37.3,780 H30 Z');
svg.append('circle').attr('cx', 32.7).attr('cy', 767.8).attr('r', 2.9).attr('fill', '#131722');

// settings icon
svg.append('path').attr('d', 'M1551,806 L1556.5,809 V815 L1551,818 L1545.5,815 V809 Z')
  .attr('fill', 'none').attr('stroke', '#131722');
svg.append('circle').attr('cx', 1551).attr('cy', 812).attr('r', 2).attr('fill', 'none').attr('stroke', '#131722');
</script>
</body>
</html>
